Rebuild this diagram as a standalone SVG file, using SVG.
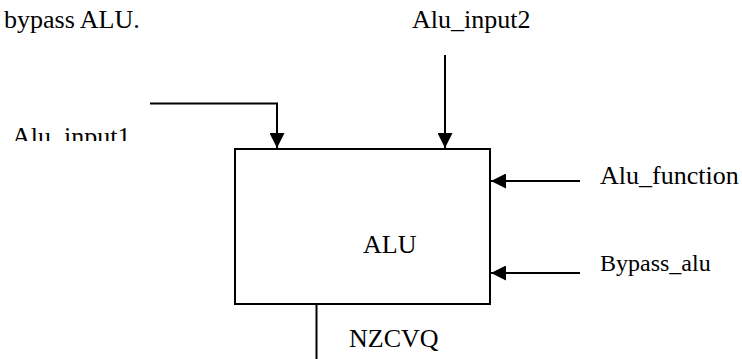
<svg xmlns="http://www.w3.org/2000/svg" width="742" height="359" viewBox="0 0 742 359">
  <style>
    .lbl { font-family: "Liberation Serif", "Times New Roman", serif; font-size: 26px; fill: #000; }
    .small { font-size: 24px; }
    .wire { stroke: #000; stroke-width: 2; fill: none; }
    .box { stroke: #000; stroke-width: 2; fill: #fff; }
  </style>
  <defs>
    <marker id="arrow" markerUnits="userSpaceOnUse" markerWidth="16" markerHeight="15" refX="15" refY="7.5" orient="auto">
      <path d="M0,0 L15,7.5 L0,15 Z" fill="#000"/>
    </marker>
    <clipPath id="clipInput1">
      <rect x="0" y="110" width="200" height="31"/>
    </clipPath>
  </defs>
  <rect width="742" height="359" fill="#fff"/>

  <text class="lbl" x="4" y="28">bypass ALU.</text>

  <g id="alu">
    <rect class="box" x="235" y="149" width="255" height="155"/>
    <text class="lbl" x="363" y="253">ALU</text>
  </g>

  <g id="alu_input1">
    <text class="lbl" x="12" y="145" clip-path="url(#clipInput1)">Alu_input1</text>
  </g>
  <g id="alu_input2">
    <text class="lbl" x="412" y="28">Alu_input2</text>
  </g>
  <g id="alu_function">
    <text class="lbl" x="600" y="184">Alu_function</text>
  </g>
  <g id="bypass_alu">
    <text class="lbl small" x="600" y="271">Bypass_alu</text>
  </g>
  <g id="nzcvq">
    <text class="lbl" x="349" y="347">NZCVQ</text>
  </g>

  <g id="connectors">
    <path class="wire" d="M150,103.5 H277 V148" marker-end="url(#arrow)"/>
    <path class="wire" d="M445,55 V148" marker-end="url(#arrow)"/>
    <path class="wire" d="M580,181 H491" marker-end="url(#arrow)"/>
    <path class="wire" d="M580,273 H491" marker-end="url(#arrow)"/>
    <path class="wire" d="M316.5,304 V359"/>
  </g>
</svg>
